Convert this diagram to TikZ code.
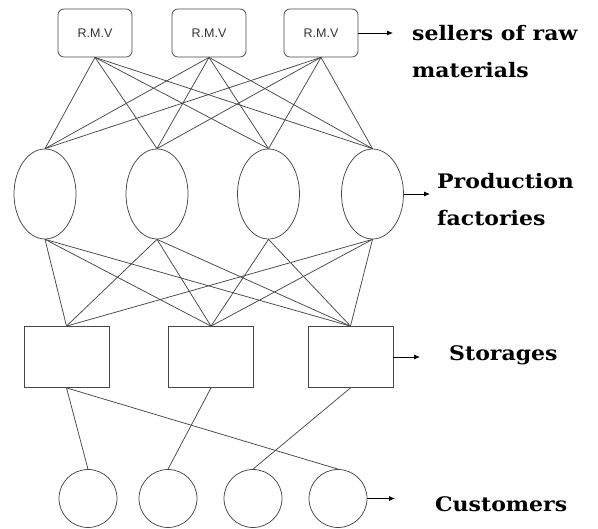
\documentclass[tikz,border=0pt]{standalone}
\usepackage{fontspec}
\usepackage{tikz}
\usetikzlibrary{arrows.meta,shapes.geometric}
\newfontfamily\labelfont[FakeStretch=1.1]{DejaVu Serif}
\newfontfamily\boxfont{Liberation Sans}
\newcommand{\linecolor}{black!72}
\newcommand{\edgewidth}{0.75pt}

\tikzset{
  rmv/.style={draw=\linecolor, line width=\edgewidth, rounded corners=6pt,
    minimum width=74pt, minimum height=48pt, inner sep=0pt,
    font=\boxfont\fontsize{12.5}{12.5}\selectfont, text=black!80},
  factory/.style={draw=\linecolor, line width=\edgewidth, ellipse,
    minimum width=62pt, minimum height=90pt, inner sep=0pt},
  store/.style={draw=\linecolor, line width=\edgewidth, rectangle,
    minimum width=85pt, minimum height=61pt, inner sep=0pt},
  customer/.style={draw=\linecolor, line width=\edgewidth, circle,
    minimum size=58pt, inner sep=0pt},
  link/.style={draw=\linecolor, line width=\edgewidth},
  pointer/.style={draw=black, line width=\edgewidth, -{Latex[length=6pt,width=5pt]}},
  caption/.style={anchor=west, align=left, inner sep=0pt,
    font=\labelfont\bfseries\fontsize{20}{37}\selectfont}
}

\begin{document}
\begin{tikzpicture}[x=1pt,y=-1pt]
\useasboundingbox (0,0) rectangle (598,529);
\node[rmv] (r1) at (95,33) {R.M.V};
\node[rmv] (r2) at (209,33) {R.M.V};
\node[rmv] (r3) at (321,33) {R.M.V};
\node[factory] (f1) at (45,194) {};
\node[factory] (f2) at (157,194) {};
\node[factory] (f3) at (268.5,194) {};
\node[factory] (f4) at (372.5,194) {};
\node[store] (s1) at (66.5,357) {};
\node[store] (s2) at (211,357) {};
\node[store] (s3) at (350.5,357) {};
\node[customer] (c1) at (88,498.5) {};
\node[customer] (c2) at (168,498.5) {};
\node[customer] (c3) at (253,498.5) {};
\node[customer] (c4) at (338,498.5) {};
%sellers to factories
\draw[link] (r1.south) -- (f1.north);
\draw[link] (r1.south) -- (f2.north);
\draw[link] (r1.south) -- (f3.north);
\draw[link] (r1.south) -- (f4.north);
\draw[link] (r2.south) -- (f1.north);
\draw[link] (r2.south) -- (f2.north);
\draw[link] (r2.south) -- (f3.north);
\draw[link] (r2.south) -- (f4.north);
\draw[link] (r3.south) -- (f1.north);
\draw[link] (r3.south) -- (f2.north);
\draw[link] (r3.south) -- (f3.north);
\draw[link] (r3.south) -- (f4.north);
%factories to storages
\draw[link] (f1.south) -- (s1.north);
\draw[link] (f1.south) -- (s2.north);
\draw[link] (f1.south) -- (s3.north);
\draw[link] (f2.south) -- (s1.north);
\draw[link] (f2.south) -- (s2.north);
\draw[link] (f2.south) -- (s3.north);
\draw[link] (f3.south) -- (s2.north);
\draw[link] (f3.south) -- (s3.north);
\draw[link] (f4.south) -- (s1.north);
\draw[link] (f4.south) -- (s2.north);
\draw[link] (f4.south) -- (s3.north);
%storages to customers
\draw[link] (s1.south) -- (c1.north);
\draw[link] (s1.south) -- (c4.north);
\draw[link] (s2.south) -- (c2.north);
\draw[link] (s3.south) -- (c3.north);
%labels
\coordinate (a1) at (393,33);
\coordinate (a2) at (430,194);
\coordinate (a3) at (420,357);
\coordinate (a4) at (395,498.5);
\draw[pointer] (r3.east) -- (a1);
\draw[pointer] (f4.east) -- (a2);
\draw[pointer] (s3.east) -- (a3);
\draw[pointer] (c4.east) -- (a4);
\node[caption] (t1) at (412,52) {sellers of raw\\materials};
\node[caption] (t2) at (437,200) {Production\\factories};
\node[caption] (t3) at (449,355) {Storages};
\node[caption] (t4) at (435,504) {Customers};
\end{tikzpicture}
\end{document}
